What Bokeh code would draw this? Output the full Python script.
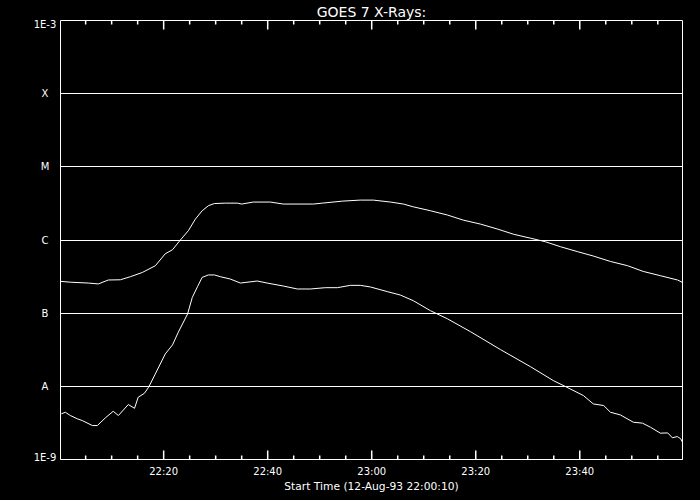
from bokeh.plotting import figure
from bokeh.models import FixedTicker, Range1d, LinearAxis
from bokeh.layouts import row
from bokeh.core.properties import value
from bokeh.embed import file_html
from bokeh.resources import INLINE

chart_title = "GOES 7 X-Rays:"
x_label = "Start Time (12-Aug-93 22:00:10)"

# time in minutes after 22:00:00 UT
long_t = [0.17, 2.06, 5.52, 7.44, 9.37, 11.67, 13.6, 15.9, 18.4, 20.3, 21.7, 23.2,
          24.75, 26.1, 27.4, 28.6, 29.75, 31.9, 34.2, 35.0, 37.25, 40.5, 43.0, 48.8,
          50.5, 54.4, 57.8, 60.3, 63.6, 66.1, 68.0, 71.3, 74.6, 77.6, 80.9, 84.2,
          87.25, 90.5, 93.4, 96.3, 99.6, 102.6, 105.9, 109.2, 112.2, 115.5, 118.8, 119.75]
# 1-8 Angstrom flux (W m^-2)
long_flux = [2.72e-7, 2.65e-7, 2.58e-7, 2.51e-7, 2.84e-7, 2.86e-7, 3.15e-7, 3.60e-7,
             4.45e-7, 6.48e-7, 7.36e-7, 9.98e-7, 1.34e-6, 1.93e-6, 2.51e-6, 2.94e-6,
             3.15e-6, 3.19e-6, 3.19e-6, 3.10e-6, 3.30e-6, 3.30e-6, 3.10e-6, 3.10e-6,
             3.19e-6, 3.40e-6, 3.51e-6, 3.51e-6, 3.30e-6, 3.10e-6, 2.84e-6, 2.51e-6,
             2.19e-6, 1.87e-6, 1.65e-6, 1.41e-6, 1.20e-6, 1.06e-6, 9.46e-7, 8.09e-7,
             6.92e-7, 6.04e-7, 5.09e-7, 4.45e-7, 3.72e-7, 3.25e-7, 2.84e-7, 2.63e-7]

short_t = [0.33, 1.1, 2.06, 3.4, 4.37, 6.3, 7.25, 8.8, 10.3, 11.3, 13.2, 14.4, 15.1,
           16.3, 17.1, 18.4, 20.3, 21.7, 22.8, 24.6, 25.5, 26.5, 27.4, 28.6, 29.75,
           30.9, 32.8, 34.75, 38.0, 39.9, 43.0, 45.7, 48.2, 51.1, 53.4, 55.9, 57.8,
           59.75, 63.0, 65.5, 68.0, 71.3, 74.6, 79.0, 84.75, 90.5, 94.9, 97.25, 100.7,
           102.6, 104.6, 105.9, 107.8, 110.3, 112.05, 113.6, 115.5, 116.9, 117.8,
           118.75, 119.4, 119.75]
# 0.5-4 Angstrom flux (W m^-2)
short_flux = [4.21e-9, 4.42e-9, 3.99e-9, 3.60e-9, 3.40e-9, 2.91e-9, 2.91e-9, 3.71e-9,
              4.56e-9, 3.99e-9, 5.64e-9, 5.01e-9, 7.09e-9, 8.03e-9, 9.70e-9, 1.48e-8,
              2.77e-8, 3.68e-8, 5.47e-8, 9.75e-8, 1.64e-7, 2.30e-7, 3.08e-7, 3.33e-7,
              3.33e-7, 3.15e-7, 2.93e-7, 2.58e-7, 2.75e-7, 2.58e-7, 2.35e-7, 2.14e-7,
              2.14e-7, 2.23e-7, 2.23e-7, 2.40e-7, 2.40e-7, 2.28e-7, 1.97e-7, 1.77e-7,
              1.48e-7, 1.08e-7, 8.34e-8, 5.58e-8, 3.18e-8, 1.86e-8, 1.20e-8, 9.93e-9,
              7.48e-9, 5.75e-9, 5.46e-9, 4.42e-9, 4.07e-9, 3.23e-9, 3.14e-9, 2.76e-9,
              2.29e-9, 2.31e-9, 1.98e-9, 2.06e-9, 1.92e-9, 1.72e-9]

x_ticks = [20, 40, 60, 80, 100]
x_tick_labels = ["22:20", "22:40", "23:00", "23:20", "23:40"]
x_minor_ticks = [5, 10, 15, 25, 30, 35, 45, 50, 55, 65, 70, 75, 85, 90, 95, 105, 110, 115]
x_start, x_end = 10 / 60, 119.75

y_ticks = [1e-9, 1e-8, 1e-7, 1e-6, 1e-5, 1e-4, 1e-3]
y_tick_labels = ["1E-9", "A", "B", "C", "M", "X", "1E-3"]

FONT = "DejaVu Sans"
WHITE = "#ffffff"
W, H = 700, 500
LW = 60                      # width of the strip holding the y labels
LABEL_X = 44.5               # centre of the y labels inside the strip
BR, BT, BB = 18, 20, 41

p = figure(width=W - LW, height=H, y_axis_type="log",
           x_range=(x_start, x_end), y_range=(y_ticks[0], y_ticks[-1]),
           output_backend="svg", toolbar_location=None, y_axis_location=None,
           background_fill_color="black", border_fill_color="black",
           min_border_left=0, min_border_right=BR, min_border_top=BT,
           min_border_bottom=BB, title=chart_title)

p.outline_line_color = WHITE
p.outline_line_width = 1

p.title.align = "center"
p.title.text_color = WHITE
p.title.text_font = FONT
p.title.text_font_style = "normal"
p.title.text_font_size = "14px"
p.title.standoff = 2

xa = p.xaxis[0]
xa.ticker = FixedTicker(ticks=x_ticks, minor_ticks=x_minor_ticks)
xa.major_label_overrides = dict(zip(x_ticks, x_tick_labels))
xa.axis_label = x_label
xa.axis_line_color = WHITE
xa.major_tick_line_color = None
xa.minor_tick_line_color = None
xa.major_tick_out = 0
xa.minor_tick_out = 0
xa.major_label_text_color = WHITE
xa.major_label_text_font = FONT
xa.major_label_text_font_size = "10px"
xa.major_label_standoff = 6
xa.axis_label_text_color = WHITE
xa.axis_label_text_font = FONT
xa.axis_label_text_font_size = "10.7px"
xa.axis_label_text_font_style = "normal"
xa.axis_label_standoff = 0

p.xgrid.grid_line_color = None
p.ygrid.grid_line_color = WHITE
p.ygrid.grid_line_alpha = 1
p.ygrid.grid_line_width = 1
p.ygrid.ticker = FixedTicker(ticks=y_ticks)

# inward tick marks on bottom and top edges (length in pixels -> log-space factor)
decade_px = (H - BT - BB) / (len(y_ticks) - 1)
major_len = 10 ** (9 / decade_px)
minor_len = 10 ** (4 / decade_px)
ymin, ymax = y_ticks[0], y_ticks[-1]
TW = 1.5
p.segment(x0=x_ticks, x1=x_ticks, y0=[ymin] * len(x_ticks), y1=[ymin * major_len] * len(x_ticks),
          line_color=WHITE, line_width=TW)
p.segment(x0=x_ticks, x1=x_ticks, y0=[ymax] * len(x_ticks), y1=[ymax / major_len] * len(x_ticks),
          line_color=WHITE, line_width=TW)
p.segment(x0=x_minor_ticks, x1=x_minor_ticks, y0=[ymin] * len(x_minor_ticks),
          y1=[ymin * minor_len] * len(x_minor_ticks), line_color=WHITE, line_width=TW)
p.segment(x0=x_minor_ticks, x1=x_minor_ticks, y0=[ymax] * len(x_minor_ticks),
          y1=[ymax / minor_len] * len(x_minor_ticks), line_color=WHITE, line_width=TW)

p.line(long_t, long_flux, line_color=WHITE, line_width=1)
p.line(short_t, short_flux, line_color=WHITE, line_width=1)

# left strip: class letters centred in the margin, sharing the plot's log y range
lab = figure(width=LW, height=H, y_axis_type="log",
             x_range=Range1d(0, LW), y_range=p.y_range,
             output_backend="svg", toolbar_location=None,
             x_axis_location=None, y_axis_location=None,
             background_fill_color="black", border_fill_color="black",
             min_border_left=0, min_border_right=0, min_border_top=BT,
             min_border_bottom=BB)
lab.outline_line_color = None
lab.grid.visible = False
inner = list(zip(y_ticks, y_tick_labels))[1:-1]
lab.text(x=[LABEL_X] * len(inner), y=[v for v, _ in inner], text=[t for _, t in inner],
         text_align="center", text_baseline="middle", text_color=WHITE,
         text_font=value(FONT), text_font_size="10px")


def edge_axis(label, standoff):
    ax = LinearAxis(ticker=FixedTicker(ticks=[LABEL_X], minor_ticks=[]),
                    major_label_overrides={LABEL_X: label},
                    axis_line_color=None, major_tick_line_color=None,
                    minor_tick_line_color=None, major_tick_in=0, major_tick_out=0,
                    minor_tick_in=0, minor_tick_out=0,
                    major_label_text_color=WHITE, major_label_text_font=FONT,
                    major_label_text_font_size="10px", major_label_standoff=standoff)
    return ax


# the decade limits sit on the frame edges, so they are drawn as unclipped axis labels
lab.add_layout(edge_axis(y_tick_labels[-1], -9), "above")
lab.add_layout(edge_axis(y_tick_labels[0], -8), "below")

layout = row(lab, p, spacing=0)
layout.styles = {"background-color": "black"}

html = file_html(layout, INLINE)
html = html.replace("<head>", "<head><style>body{background:#000000;}</style>", 1)
open("out.html", "w").write(html)
